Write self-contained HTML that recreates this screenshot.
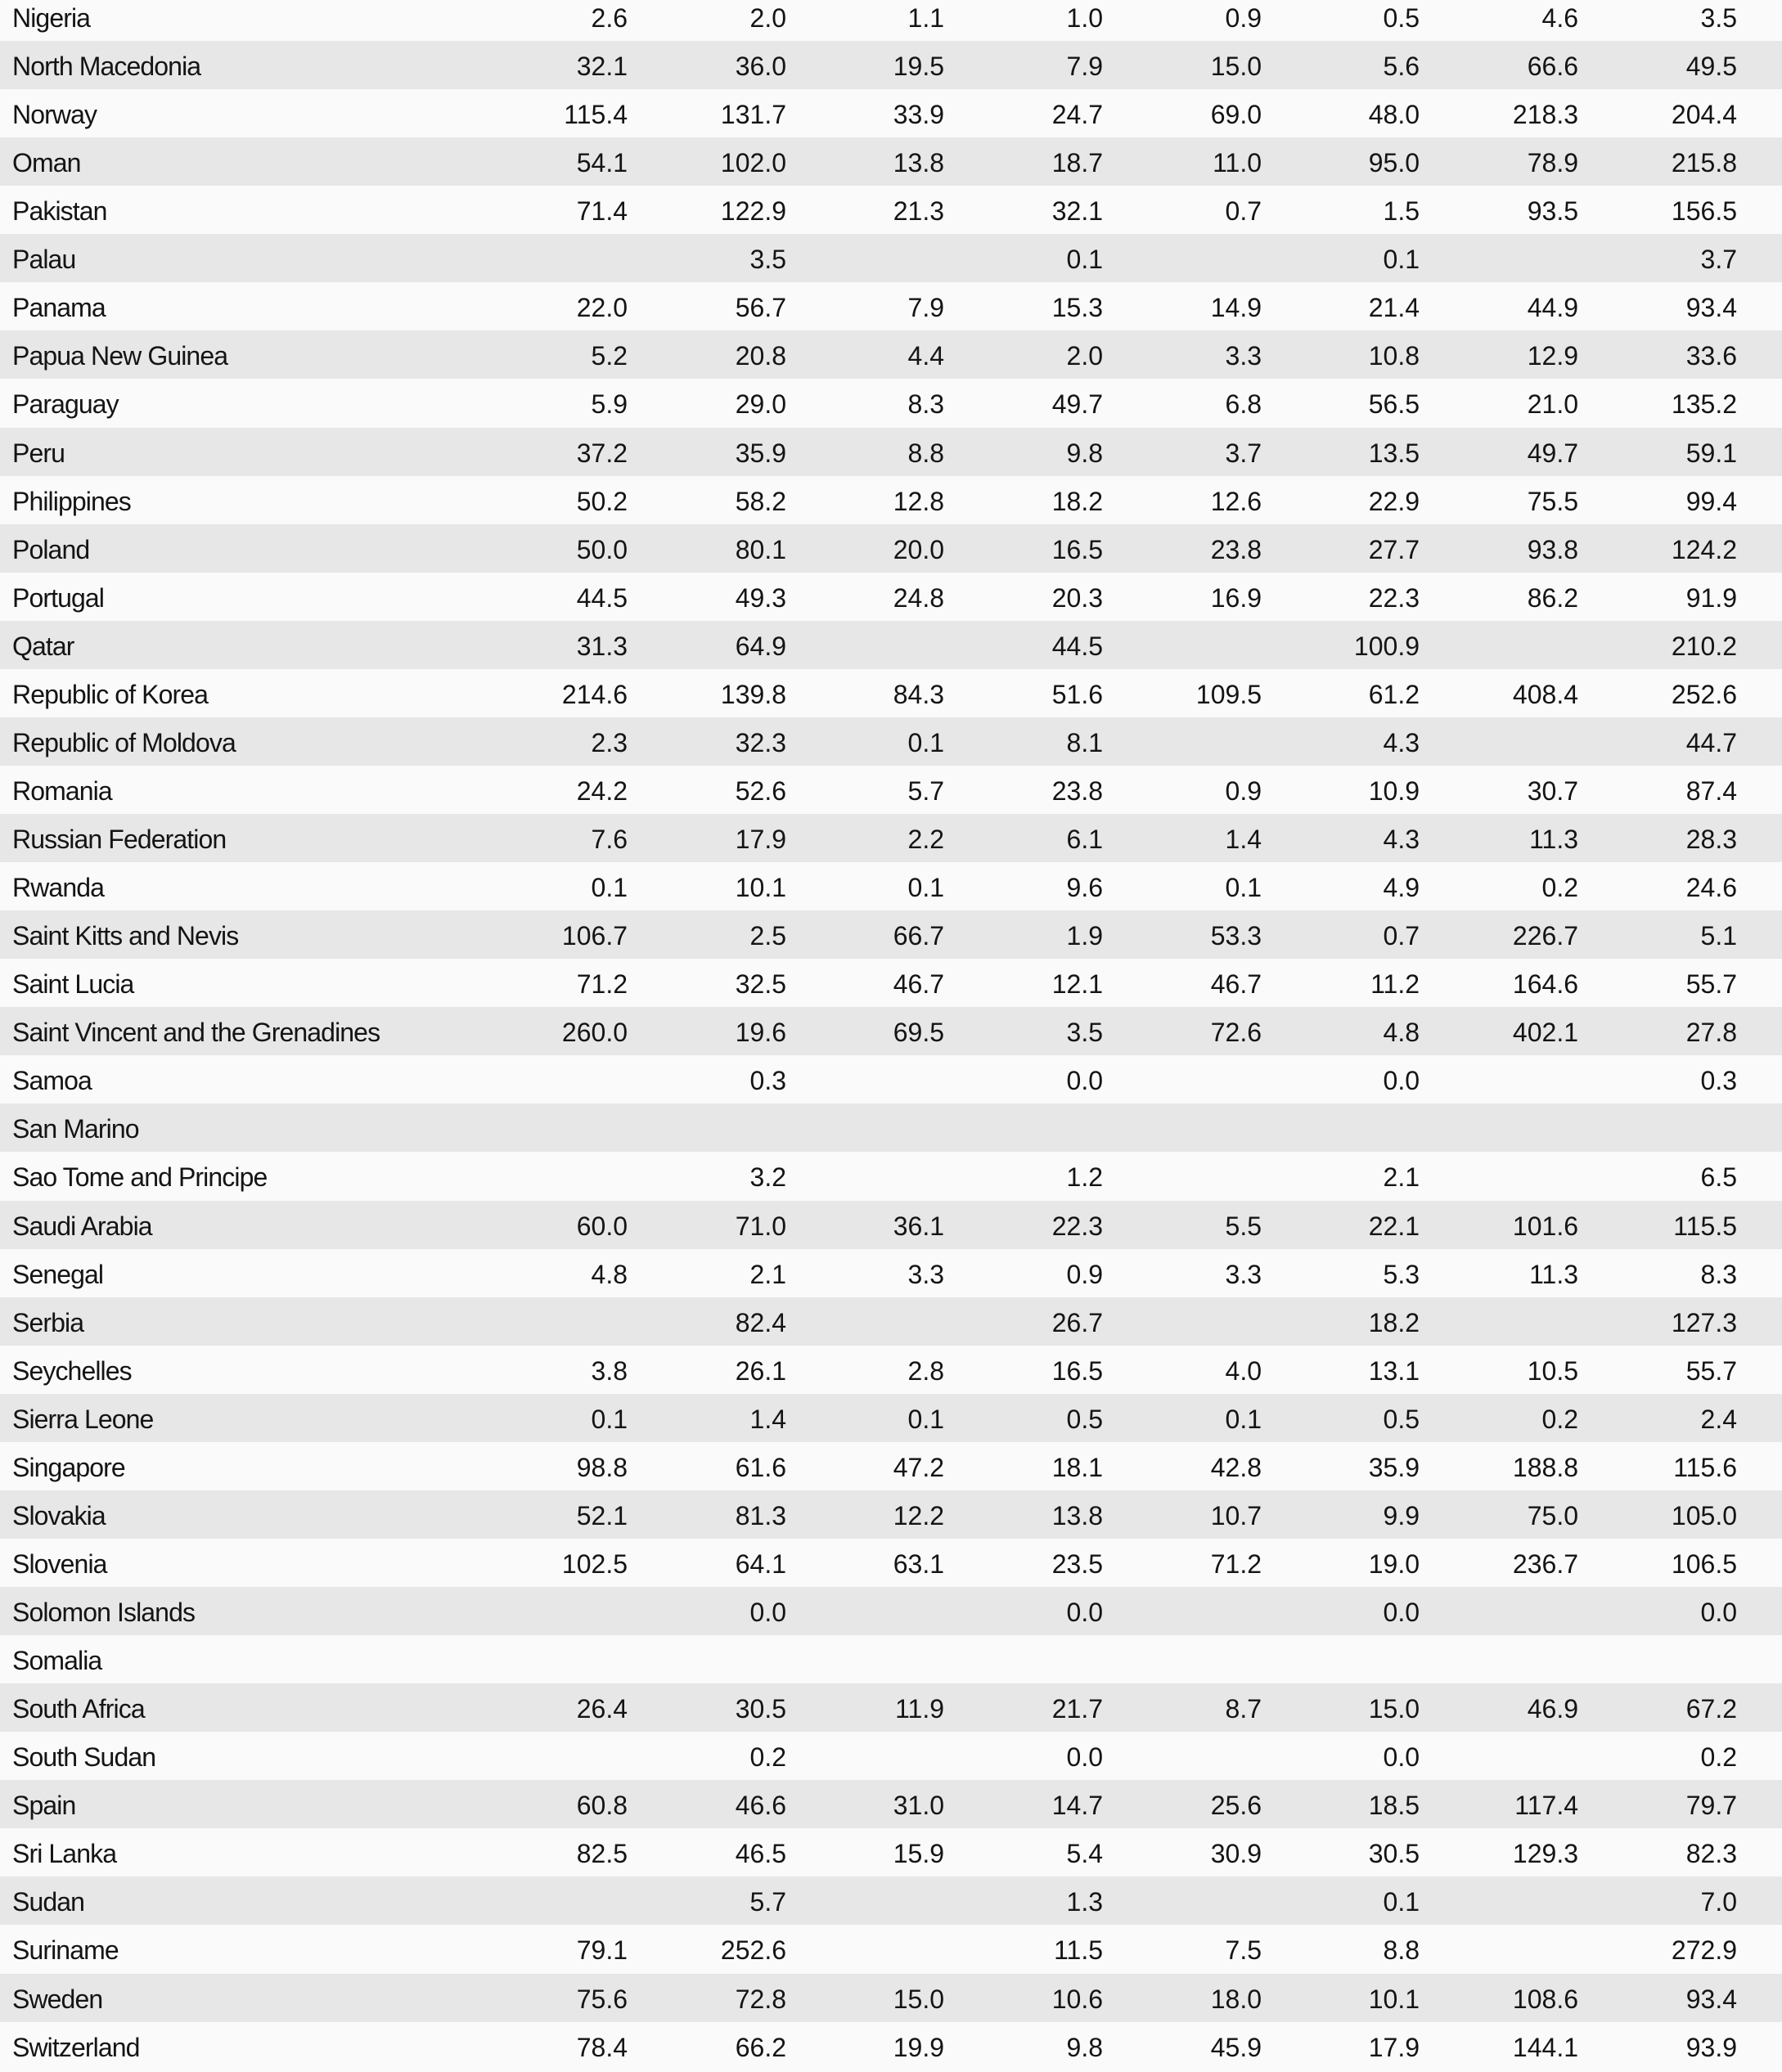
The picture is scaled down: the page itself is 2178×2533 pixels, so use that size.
<!DOCTYPE html>
<html>
<head>
<meta charset="utf-8">
<style>
html,body{margin:0;padding:0;}
body{width:2178px;height:2531px;overflow:hidden;background:#fafafa;position:relative;
font-family:"Liberation Sans",sans-serif;font-size:32px;color:#141414;}
#t{position:absolute;left:0;top:-9.07px;width:2178px;}
.r{position:relative;height:59.07px;background:#fafafa;}
.r:nth-child(even){background:#e7e7e7;}
.r span{position:absolute;top:2px;line-height:59px;white-space:nowrap;}
.r span:nth-child(1){left:15px;letter-spacing:-0.9px;}
.r span:nth-child(2){right:1411px;}
.r span:nth-child(3){right:1217px;}
.r span:nth-child(4){right:1024px;}
.r span:nth-child(5){right:830px;}
.r span:nth-child(6){right:636px;}
.r span:nth-child(7){right:443px;}
.r span:nth-child(8){right:249px;}
.r span:nth-child(9){right:55px;}
</style>
</head>
<body>
<div id="t">
<div class="r"><span>Nigeria</span><span>2.6</span><span>2.0</span><span>1.1</span><span>1.0</span><span>0.9</span><span>0.5</span><span>4.6</span><span>3.5</span></div>
<div class="r"><span>North Macedonia</span><span>32.1</span><span>36.0</span><span>19.5</span><span>7.9</span><span>15.0</span><span>5.6</span><span>66.6</span><span>49.5</span></div>
<div class="r"><span>Norway</span><span>115.4</span><span>131.7</span><span>33.9</span><span>24.7</span><span>69.0</span><span>48.0</span><span>218.3</span><span>204.4</span></div>
<div class="r"><span>Oman</span><span>54.1</span><span>102.0</span><span>13.8</span><span>18.7</span><span>11.0</span><span>95.0</span><span>78.9</span><span>215.8</span></div>
<div class="r"><span>Pakistan</span><span>71.4</span><span>122.9</span><span>21.3</span><span>32.1</span><span>0.7</span><span>1.5</span><span>93.5</span><span>156.5</span></div>
<div class="r"><span>Palau</span><span></span><span>3.5</span><span></span><span>0.1</span><span></span><span>0.1</span><span></span><span>3.7</span></div>
<div class="r"><span>Panama</span><span>22.0</span><span>56.7</span><span>7.9</span><span>15.3</span><span>14.9</span><span>21.4</span><span>44.9</span><span>93.4</span></div>
<div class="r"><span>Papua New Guinea</span><span>5.2</span><span>20.8</span><span>4.4</span><span>2.0</span><span>3.3</span><span>10.8</span><span>12.9</span><span>33.6</span></div>
<div class="r"><span>Paraguay</span><span>5.9</span><span>29.0</span><span>8.3</span><span>49.7</span><span>6.8</span><span>56.5</span><span>21.0</span><span>135.2</span></div>
<div class="r"><span>Peru</span><span>37.2</span><span>35.9</span><span>8.8</span><span>9.8</span><span>3.7</span><span>13.5</span><span>49.7</span><span>59.1</span></div>
<div class="r"><span>Philippines</span><span>50.2</span><span>58.2</span><span>12.8</span><span>18.2</span><span>12.6</span><span>22.9</span><span>75.5</span><span>99.4</span></div>
<div class="r"><span>Poland</span><span>50.0</span><span>80.1</span><span>20.0</span><span>16.5</span><span>23.8</span><span>27.7</span><span>93.8</span><span>124.2</span></div>
<div class="r"><span>Portugal</span><span>44.5</span><span>49.3</span><span>24.8</span><span>20.3</span><span>16.9</span><span>22.3</span><span>86.2</span><span>91.9</span></div>
<div class="r"><span>Qatar</span><span>31.3</span><span>64.9</span><span></span><span>44.5</span><span></span><span>100.9</span><span></span><span>210.2</span></div>
<div class="r"><span>Republic of Korea</span><span>214.6</span><span>139.8</span><span>84.3</span><span>51.6</span><span>109.5</span><span>61.2</span><span>408.4</span><span>252.6</span></div>
<div class="r"><span>Republic of Moldova</span><span>2.3</span><span>32.3</span><span>0.1</span><span>8.1</span><span></span><span>4.3</span><span></span><span>44.7</span></div>
<div class="r"><span>Romania</span><span>24.2</span><span>52.6</span><span>5.7</span><span>23.8</span><span>0.9</span><span>10.9</span><span>30.7</span><span>87.4</span></div>
<div class="r"><span>Russian Federation</span><span>7.6</span><span>17.9</span><span>2.2</span><span>6.1</span><span>1.4</span><span>4.3</span><span>11.3</span><span>28.3</span></div>
<div class="r"><span>Rwanda</span><span>0.1</span><span>10.1</span><span>0.1</span><span>9.6</span><span>0.1</span><span>4.9</span><span>0.2</span><span>24.6</span></div>
<div class="r"><span>Saint Kitts and Nevis</span><span>106.7</span><span>2.5</span><span>66.7</span><span>1.9</span><span>53.3</span><span>0.7</span><span>226.7</span><span>5.1</span></div>
<div class="r"><span>Saint Lucia</span><span>71.2</span><span>32.5</span><span>46.7</span><span>12.1</span><span>46.7</span><span>11.2</span><span>164.6</span><span>55.7</span></div>
<div class="r"><span>Saint Vincent and the Grenadines</span><span>260.0</span><span>19.6</span><span>69.5</span><span>3.5</span><span>72.6</span><span>4.8</span><span>402.1</span><span>27.8</span></div>
<div class="r"><span>Samoa</span><span></span><span>0.3</span><span></span><span>0.0</span><span></span><span>0.0</span><span></span><span>0.3</span></div>
<div class="r"><span>San Marino</span><span></span><span></span><span></span><span></span><span></span><span></span><span></span><span></span></div>
<div class="r"><span>Sao Tome and Principe</span><span></span><span>3.2</span><span></span><span>1.2</span><span></span><span>2.1</span><span></span><span>6.5</span></div>
<div class="r"><span>Saudi Arabia</span><span>60.0</span><span>71.0</span><span>36.1</span><span>22.3</span><span>5.5</span><span>22.1</span><span>101.6</span><span>115.5</span></div>
<div class="r"><span>Senegal</span><span>4.8</span><span>2.1</span><span>3.3</span><span>0.9</span><span>3.3</span><span>5.3</span><span>11.3</span><span>8.3</span></div>
<div class="r"><span>Serbia</span><span></span><span>82.4</span><span></span><span>26.7</span><span></span><span>18.2</span><span></span><span>127.3</span></div>
<div class="r"><span>Seychelles</span><span>3.8</span><span>26.1</span><span>2.8</span><span>16.5</span><span>4.0</span><span>13.1</span><span>10.5</span><span>55.7</span></div>
<div class="r"><span>Sierra Leone</span><span>0.1</span><span>1.4</span><span>0.1</span><span>0.5</span><span>0.1</span><span>0.5</span><span>0.2</span><span>2.4</span></div>
<div class="r"><span>Singapore</span><span>98.8</span><span>61.6</span><span>47.2</span><span>18.1</span><span>42.8</span><span>35.9</span><span>188.8</span><span>115.6</span></div>
<div class="r"><span>Slovakia</span><span>52.1</span><span>81.3</span><span>12.2</span><span>13.8</span><span>10.7</span><span>9.9</span><span>75.0</span><span>105.0</span></div>
<div class="r"><span>Slovenia</span><span>102.5</span><span>64.1</span><span>63.1</span><span>23.5</span><span>71.2</span><span>19.0</span><span>236.7</span><span>106.5</span></div>
<div class="r"><span>Solomon Islands</span><span></span><span>0.0</span><span></span><span>0.0</span><span></span><span>0.0</span><span></span><span>0.0</span></div>
<div class="r"><span>Somalia</span><span></span><span></span><span></span><span></span><span></span><span></span><span></span><span></span></div>
<div class="r"><span>South Africa</span><span>26.4</span><span>30.5</span><span>11.9</span><span>21.7</span><span>8.7</span><span>15.0</span><span>46.9</span><span>67.2</span></div>
<div class="r"><span>South Sudan</span><span></span><span>0.2</span><span></span><span>0.0</span><span></span><span>0.0</span><span></span><span>0.2</span></div>
<div class="r"><span>Spain</span><span>60.8</span><span>46.6</span><span>31.0</span><span>14.7</span><span>25.6</span><span>18.5</span><span>117.4</span><span>79.7</span></div>
<div class="r"><span>Sri Lanka</span><span>82.5</span><span>46.5</span><span>15.9</span><span>5.4</span><span>30.9</span><span>30.5</span><span>129.3</span><span>82.3</span></div>
<div class="r"><span>Sudan</span><span></span><span>5.7</span><span></span><span>1.3</span><span></span><span>0.1</span><span></span><span>7.0</span></div>
<div class="r"><span>Suriname</span><span>79.1</span><span>252.6</span><span></span><span>11.5</span><span>7.5</span><span>8.8</span><span></span><span>272.9</span></div>
<div class="r"><span>Sweden</span><span>75.6</span><span>72.8</span><span>15.0</span><span>10.6</span><span>18.0</span><span>10.1</span><span>108.6</span><span>93.4</span></div>
<div class="r"><span>Switzerland</span><span>78.4</span><span>66.2</span><span>19.9</span><span>9.8</span><span>45.9</span><span>17.9</span><span>144.1</span><span>93.9</span></div>
</div>
</body>
</html>
